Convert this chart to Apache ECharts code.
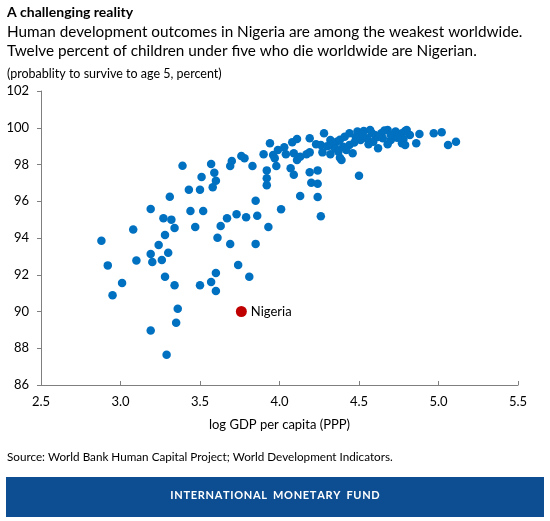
<!DOCTYPE html>
<html>
<head>
<meta charset="utf-8">
<script src="https://cdn.jsdelivr.net/npm/echarts@6/dist/echarts.min.js"></script>
<style>
html,body{margin:0;padding:0;background:#fff;}
#chart{width:550px;height:521px;}
</style>
</head>
<body>
<div id="chart"></div>
<script>
// log GDP per capita (PPP)
const gdpLog = [
  2.88,2.92,2.95,3.01,3.08,3.10,3.19,3.30,3.20,3.26,3.28,3.34,3.50,3.57,3.60,3.60,3.74,3.81,3.36,3.35,
  3.19,3.29,3.94,3.90,3.96,3.97,3.98,3.76,3.78,3.83,3.70,3.69,3.57,3.39,3.51,3.59,3.60,3.58,3.43,3.50,
  3.92,3.92,3.92,3.31,3.85,3.19,3.44,3.52,3.27,3.32,3.67,3.73,3.79,3.86,4.01,3.34,3.47,3.63,3.93,3.28,
  3.24,3.61,3.69,3.85,4.07,4.09,4.11,4.19,4.24,4.20,4.24,4.50,4.39,4.13,4.24,4.26,4.28,4.32,4.36,4.19,
  4.11,4.08,4.03,3.99,4.04,4.09,4.13,4.17,4.19,4.23,4.26,4.27,4.32,4.34,4.38,4.46,4.62,4.35,4.41,4.44,
  4.49,4.53,4.57,4.60,4.64,4.68,4.73,4.77,4.80,4.77,4.70,4.65,4.40,4.44,4.51,4.55,4.37,4.42,4.59,4.79,
  4.82,4.78,4.79,4.88,4.86,4.97,5.02,5.06,5.11,4.52,4.62,4.70,4.58,4.48,4.74,4.66,4.38,4.47,4.56,4.68,4.30
];
// probability to survive to age 5, percent
const survival = [
  93.85,92.51,90.88,91.55,94.46,92.78,93.13,93.20,92.69,92.80,91.89,91.43,91.43,91.61,92.10,91.12,92.53,91.89,90.15,89.39,
  88.96,87.65,99.15,98.56,98.52,98.34,97.92,98.46,98.34,97.92,98.19,97.92,98.03,97.93,97.32,97.55,97.12,96.76,96.63,96.63,
  97.68,97.25,96.87,96.25,96.03,95.58,95.47,95.47,95.07,95.00,95.07,95.29,95.13,95.21,95.56,94.54,94.60,94.65,94.60,94.16,
  93.62,94.02,93.67,93.68,97.79,97.44,98.24,97.58,97.68,97.01,96.95,97.39,98.24,96.29,96.23,95.18,99.70,99.33,99.24,99.43,
  99.39,99.21,98.94,98.79,98.56,98.61,98.42,98.56,98.66,99.10,99.06,98.66,98.56,98.97,98.37,98.61,98.88,98.88,99.51,99.70,
  99.79,99.82,99.88,99.61,99.70,99.88,99.79,99.70,99.88,99.15,99.33,99.43,98.97,99.06,99.33,99.43,98.70,98.79,99.24,99.82,
  99.61,99.39,99.06,99.66,99.15,99.70,99.75,99.06,99.24,99.60,99.50,99.62,99.72,99.48,99.45,99.85,99.35,99.20,99.10,99.10,99.00
];
const nigeriaGdp = [3.76];
const nigeriaSurvival = [90.0];
const nigeriaLabel = ['Nigeria'];
const xTicks = [2.5, 3.0, 3.5, 4.0, 4.5, 5.0, 5.5];
const yTicks = [86, 88, 90, 92, 94, 96, 98, 100, 102];

const countries = gdpLog.map((g, i) => [g, survival[i]]);
const nigeria = nigeriaGdp.map((g, i) => ({ value: [g, nigeriaSurvival[i]], name: nigeriaLabel[i] }));

const FONT = 'Lato, "Open Sans", sans-serif';
const chart = echarts.init(document.getElementById('chart'), null, { renderer: 'canvas' });
chart.setOption({
  animation: false,
  backgroundColor: '#ffffff',
  textStyle: { fontFamily: FONT },
  title: [
    { text: 'A challenging reality', left: 7, top: 5, padding: 0,
      textStyle: { fontFamily: FONT, fontSize: 14, fontWeight: 'bold', color: '#000' } },
    { text: 'Human development outcomes in Nigeria are among the weakest worldwide.\nTwelve percent of children under five who die worldwide are Nigerian.',
      left: 7, top: 23, padding: 0,
      textStyle: { fontFamily: FONT, fontSize: 15.3, fontWeight: 'normal', color: '#000', lineHeight: 18.5 } },
    { text: '(probablity to survive to age 5, percent)', left: 7, top: 67, padding: 0,
      textStyle: { fontFamily: FONT, fontSize: 12.5, fontWeight: 'normal', color: '#000' } },
    { text: 'Source: World Bank Human Capital Project; World Development Indicators.', left: 7, top: 451, padding: 0,
      textStyle: { fontFamily: FONT, fontSize: 11.7, fontWeight: 'normal', color: '#000' } }
  ],
  graphic: [
    { type: 'rect', left: 6, top: 477, shape: { width: 538, height: 40 }, style: { fill: '#0D4D91' } },
    { type: 'text', left: 'center', top: 490,
      style: { text: 'I N T E R N A T I O N A L   M O N E T A R Y   F U N D'.replace(/ (?! )/g, '\u200A'),
        fill: '#ffffff', font: 'bold 11px ' + FONT } }
  ],
  grid: { left: 41, right: 32, top: 91, bottom: 136, containLabel: false },
  xAxis: {
    type: 'value', min: xTicks[0], max: xTicks[xTicks.length - 1], interval: 0.5,
    name: 'log GDP per capita (PPP)', nameLocation: 'middle', nameGap: 33,
    nameTextStyle: { fontFamily: FONT, fontSize: 13, color: '#000' },
    axisLine: { show: true, lineStyle: { color: '#7f7f7f', width: 1 } },
    axisTick: { show: true, inside: true, length: 4, lineStyle: { color: '#7f7f7f' } },
    axisLabel: { color: '#000', fontSize: 13, fontFamily: FONT, margin: 10,
      formatter: v => v.toFixed(1) },
    splitLine: { show: false }
  },
  yAxis: {
    type: 'value', min: yTicks[0], max: yTicks[yTicks.length - 1], interval: 2,
    axisLine: { show: true, lineStyle: { color: '#7f7f7f', width: 1 } },
    axisTick: { show: true, inside: false, length: 4, lineStyle: { color: '#7f7f7f' } },
    axisLabel: { color: '#000', fontSize: 13, fontFamily: FONT, margin: 12 },
    splitLine: { show: false }
  },
  series: [
    { type: 'scatter', name: 'Countries', data: countries, symbolSize: 8.5,
      itemStyle: { color: '#0070C0', opacity: 1 } },
    { type: 'scatter', name: 'Nigeria', data: nigeria, symbolSize: 11,
      itemStyle: { color: '#C00000', opacity: 1 },
      label: { show: true, position: 'right', distance: 4, formatter: p => p.name,
        color: '#000', fontSize: 13, fontFamily: FONT } }
  ]
});
</script>
</body>
</html>
